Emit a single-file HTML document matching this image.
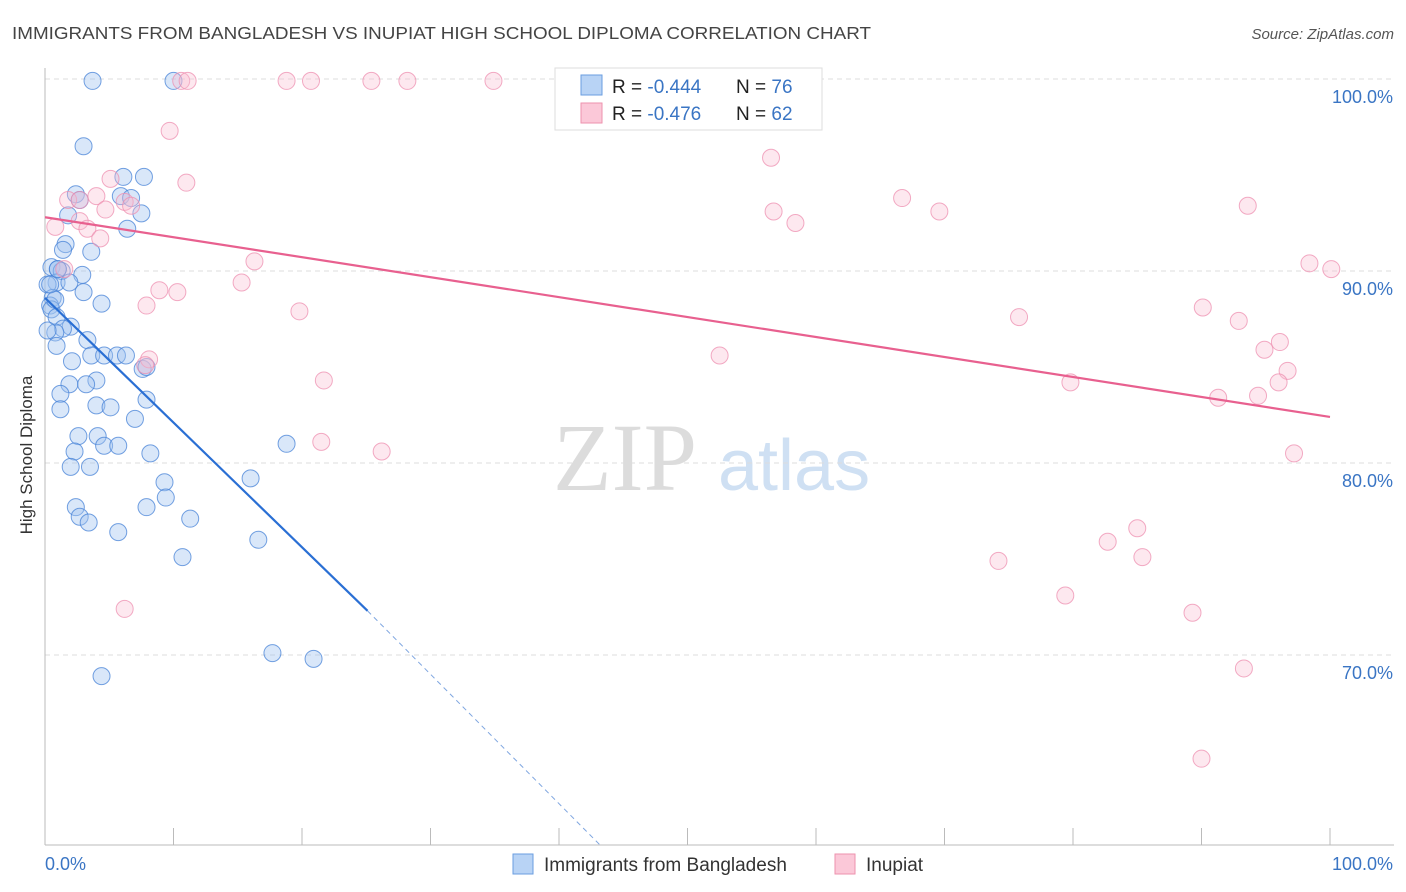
<!DOCTYPE html>
<html><head><meta charset="utf-8"><style>
body{margin:0;background:#fff;font-family:"Liberation Sans",sans-serif;}
#wrap{position:relative;width:1406px;height:892px;overflow:hidden;}
</style></head><body>
<div id="wrap">
<svg id="chart" width="1406" height="892">
<text x="12" y="39" font-size="17.5" fill="#444" textLength="859" lengthAdjust="spacingAndGlyphs">IMMIGRANTS FROM BANGLADESH VS INUPIAT HIGH SCHOOL DIPLOMA CORRELATION CHART</text>
<text x="1394" y="39" font-size="15" fill="#555" font-style="italic" text-anchor="end">Source: ZipAtlas.com</text>
<text x="32" y="455" font-size="17" fill="#333" text-anchor="middle" transform="rotate(-90 32 455)">High School Diploma</text>
<g>
<text x="553" y="490" font-size="96" font-family="Liberation Serif,serif" fill="#dcdcdc">ZIP</text>
<text x="718" y="490" font-size="72" fill="#cfe0f3">atlas</text>
</g>
<g id="grid"></g><g id="axes"></g><g id="pts"></g><g id="lines"></g>
<g>
<rect x="555" y="68" width="267" height="62" fill="#fff" stroke="#ddd"/>
<rect x="581" y="75" width="21" height="20" fill="#b8d3f5" stroke="#6a9ee0"/>
<rect x="581" y="103" width="21" height="20" fill="#fbc8d8" stroke="#ee92ae"/>
<text x="612" y="93" font-size="19" fill="#222">R = <tspan fill="#3a75c4">-0.444</tspan></text>
<text x="736" y="93" font-size="19" fill="#222">N = <tspan fill="#3a75c4">76</tspan></text>
<text x="612" y="120" font-size="19" fill="#222">R =  <tspan fill="#3a75c4">-0.476</tspan></text>
<text x="736" y="120" font-size="19" fill="#222">N = <tspan fill="#3a75c4">62</tspan></text>
</g>
<g>
<rect x="513" y="854" width="20" height="20" fill="#b8d3f5" stroke="#6a9ee0"/>
<text x="544" y="871" font-size="19" fill="#333">Immigrants from Bangladesh</text>
<rect x="835" y="854" width="20" height="20" fill="#fbc8d8" stroke="#ee92ae"/>
<text x="866" y="871" font-size="19" fill="#333">Inupiat</text>
</g>
</svg>
</div>
<script>
const yTicks=[100,90,80,70];
const xTickLabels=["0.0%","100.0%"];
const blueX=[3.7,10.0,3.0,6.1,7.7,2.4,2.7,5.9,6.7,1.8,7.5,6.4,1.6,1.4,3.6,0.5,1.0,1.3,2.9,0.9,1.9,0.2,0.6,3.0,4.4,0.4,0.5,0.9,2.0,1.4,0.8,3.3,0.9,2.1,3.6,4.6,5.6,6.3,7.6,7.9,4.0,1.9,3.2,1.2,7.9,4.0,5.1,1.2,7.0,2.6,4.1,4.6,5.7,2.3,8.2,3.5,2.0,18.8,16.0,9.3,9.4,2.4,7.9,2.7,3.4,11.3,5.7,16.6,10.7,17.7,20.9,4.4,0.8,0.2,0.4,1.0];
const blueY=[99.9,99.9,96.5,94.9,94.9,94.0,93.7,93.9,93.8,92.9,93.0,92.2,91.4,91.1,91.0,90.2,90.1,90.0,89.8,89.4,89.4,89.3,88.6,88.9,88.3,88.2,88.0,87.6,87.1,87.0,86.8,86.4,86.1,85.3,85.6,85.6,85.6,85.6,84.9,85.0,84.3,84.1,84.1,83.6,83.3,83.0,82.9,82.8,82.3,81.4,81.4,80.9,80.9,80.6,80.5,79.8,79.8,81.0,79.2,79.0,78.2,77.7,77.7,77.2,76.9,77.1,76.4,76.0,75.1,70.1,69.8,68.9,88.5,86.9,89.3,90.1];
const pinkX=[10.6,11.1,18.8,20.7,25.4,28.2,34.9,47.2,9.7,11.0,5.1,4.0,1.8,2.7,0.8,2.7,3.3,4.7,6.2,6.7,4.3,56.5,66.7,56.7,69.6,58.4,93.6,16.3,1.5,15.3,8.9,10.3,7.9,19.8,98.4,100.1,75.8,90.1,92.9,96.1,94.9,96.7,96.0,94.4,91.3,79.8,52.5,8.1,7.8,21.7,21.5,26.2,97.2,85.0,82.7,85.4,74.2,79.4,89.3,6.2,93.3,90.0];
const pinkY=[99.9,99.9,99.9,99.9,99.9,99.9,99.9,99.9,97.3,94.6,94.8,93.9,93.7,93.7,92.3,92.6,92.2,93.2,93.6,93.4,91.7,95.9,93.8,93.1,93.1,92.5,93.4,90.5,90.1,89.4,89.0,88.9,88.2,87.9,90.4,90.1,87.6,88.1,87.4,86.3,85.9,84.8,84.2,83.5,83.4,84.2,85.6,85.4,85.1,84.3,81.1,80.6,80.5,76.6,75.9,75.1,74.9,73.1,72.2,72.4,69.3,64.6];
const blueTrend=[88.6,72.3,60.1];
const blueTrendX=[0,25.1,43.2];
const pinkTrend=[92.8,82.4];
const pinkTrendX=[0,100];
const NS="http://www.w3.org/2000/svg";
const X=v=>45+v*12.85, Y=v=>79+(100-v)*19.2;
function mk(t,a,p){const e=document.createElementNS(NS,t);for(const k in a)e.setAttribute(k,a[k]);p.appendChild(e);return e;}
const grid=document.getElementById('grid'),axes=document.getElementById('axes'),pts=document.getElementById('pts'),lines=document.getElementById('lines');
yTicks.forEach(t=>{
 const l=mk('line',{x1:45,x2:1394,y1:Y(t),y2:Y(t),stroke:'#ddd','stroke-dasharray':'5,4'},grid);
 
 
 const tx=mk('text',{x:1393,y:Y(t)+24,'font-size':18,fill:'#3a75c4','text-anchor':'end'},axes);
 tx.textContent=t.toFixed(1)+'%';
 
 
});
const ax=mk('line',{x1:45,x2:1394,y1:845,y2:845,stroke:'#bbb'},axes);


const ay=mk('line',{x1:45,x2:45,y1:68,y2:845,stroke:'#bbb'},axes);


for(let i=0;i<=10;i++){const t=mk('line',{x1:X(i*10),x2:X(i*10),y1:828,y2:845,stroke:'#bbb'},axes);
 
 }
const xl0=mk('text',{x:45,y:870,'font-size':18,fill:'#3a75c4'},axes);xl0.textContent=xTickLabels[0];


const xl1=mk('text',{x:1393,y:870,'font-size':18,fill:'#3a75c4','text-anchor':'end'},axes);xl1.textContent=xTickLabels[1];


blueX.forEach((v,i)=>{const c=mk('circle',{cx:X(v),cy:Y(blueY[i]),r:8.5,fill:'rgba(160,196,240,0.4)',stroke:'rgba(70,130,215,0.75)','stroke-width':1},pts);
 
 });
pinkX.forEach((v,i)=>{const c=mk('circle',{cx:X(v),cy:Y(pinkY[i]),r:8.5,fill:'rgba(250,190,210,0.35)',stroke:'rgba(238,143,176,0.75)','stroke-width':1},pts);
 
 });
const pl=mk('line',{x1:X(pinkTrendX[0]),y1:Y(pinkTrend[0]),x2:X(pinkTrendX[1]),y2:Y(pinkTrend[1]),stroke:'#e8608f','stroke-width':2.2},lines);


const bl=mk('line',{x1:X(blueTrendX[0]),y1:Y(blueTrend[0]),x2:X(blueTrendX[1]),y2:Y(blueTrend[1]),stroke:'#2a6fd4','stroke-width':2.2},lines);


const bd=mk('line',{x1:X(blueTrendX[1]),y1:Y(blueTrend[1]),x2:X(blueTrendX[2]),y2:Y(blueTrend[2]),stroke:'#7fa6e0','stroke-width':1,'stroke-dasharray':'5,4'},lines);


</script>
</body></html>
